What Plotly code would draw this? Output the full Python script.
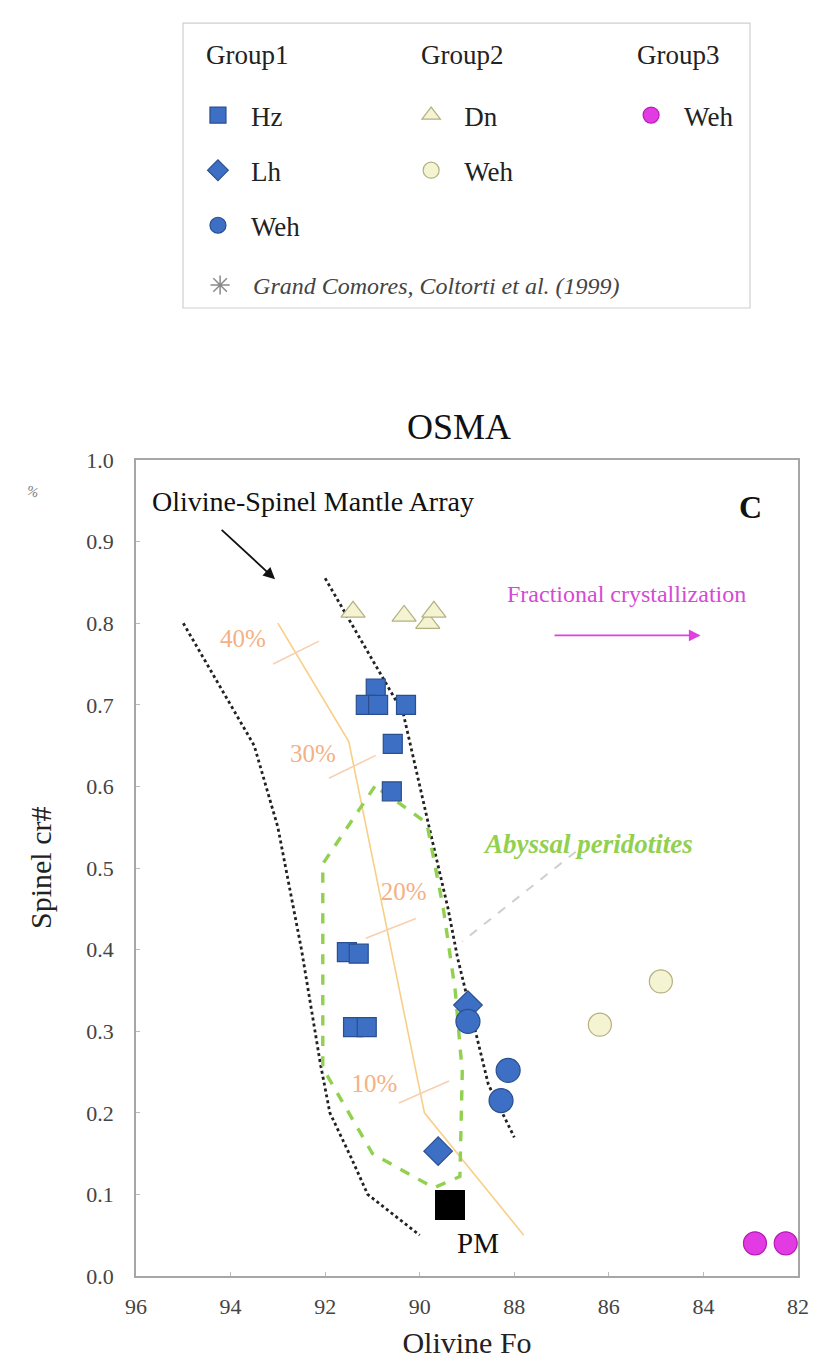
import plotly.graph_objects as go

# ---------------- data ----------------
hz_fo = [90.93, 91.14, 90.88, 90.29, 90.57, 90.59, 91.54, 91.29, 91.41, 91.12]
hz_cr = [0.720, 0.700, 0.700, 0.700, 0.652, 0.594, 0.397, 0.395, 0.305, 0.305]
lh_fo = [88.98, 89.61]
lh_cr = [0.332, 0.153]
weh1_fo = [88.98, 88.13, 88.28]
weh1_cr = [0.312, 0.252, 0.215]
dn_fo = [91.41, 90.33, 89.83, 89.70]
dn_cr = [0.814, 0.809, 0.800, 0.814]
weh2_fo = [86.19, 84.90]
weh2_cr = [0.308, 0.361]
weh3_fo = [82.91, 82.26]
weh3_cr = [0.040, 0.040]
pm_fo = [89.36]
pm_cr = [0.087]

osma_left_fo = [95.0, 93.5, 93.0, 92.5, 92.1, 91.9, 91.45, 91.1, 90.0]
osma_left_cr = [0.80, 0.65, 0.55, 0.40, 0.26, 0.20, 0.145, 0.10, 0.05]
osma_right_fo = [92.0, 90.8, 90.35, 89.8, 89.4, 89.2, 88.95, 88.55, 88.0]
osma_right_cr = [0.855, 0.735, 0.69, 0.55, 0.45, 0.39, 0.33, 0.235, 0.17]

melt_fo = [93.0, 91.5, 89.9, 87.8]
melt_cr = [0.80, 0.655, 0.20, 0.05]
melt_pct = ["40%", "30%", "20%", "10%"]
melt_tick_fo = [(93.1, 92.13), (91.92, 90.93), (91.14, 90.08), (90.44, 89.38)]
melt_tick_cr = [(0.750, 0.778), (0.610, 0.638), (0.414, 0.438), (0.212, 0.239)]
melt_lab_fo = [93.74, 92.26, 90.34, 90.96]
melt_lab_cr = [0.778, 0.638, 0.469, 0.233]

abyssal_fo = [90.95, 92.05, 92.05, 91.0, 89.7, 89.15, 89.1, 89.25, 89.5, 89.85, 90.45, 90.95]
abyssal_cr = [0.600, 0.505, 0.255, 0.150, 0.108, 0.122, 0.25, 0.35, 0.45, 0.555, 0.58, 0.600]
leader_fo = [86.7, 89.1]
leader_cr = [0.52, 0.41]

x_ticks = [96, 94, 92, 90, 88, 86, 84, 82]
y_ticks = [0.0, 0.1, 0.2, 0.3, 0.4, 0.5, 0.6, 0.7, 0.8, 0.9, 1.0]

# ---------------- styles ----------------
FONT = "Liberation Serif"
BLUE = "#3d6fc4"
BLUE_EDGE = "#2a4f8f"
PALE = "#f4f4d2"
PALE_EDGE = "#b5b080"
MAG = "#e33be3"
MAG_EDGE = "#b51cb5"
GREEN = "#92d050"
ORANGE_LINE = "#f7cf86"
SALMON = "#f4b183"

fig = go.Figure()

# OSMA boundaries
for fx, fy in [(osma_left_fo, osma_left_cr), (osma_right_fo, osma_right_cr)]:
    fig.add_trace(go.Scatter(x=fx, y=fy, mode="lines", showlegend=False, hoverinfo="skip",
                             line=dict(color="#222222", width=2.8, dash="dot")))
# melting trend
fig.add_trace(go.Scatter(x=melt_fo, y=melt_cr, mode="lines", showlegend=False, hoverinfo="skip",
                         line=dict(color=ORANGE_LINE, width=1.6)))
for tx, ty in zip(melt_tick_fo, melt_tick_cr):
    fig.add_trace(go.Scatter(x=list(tx), y=list(ty), mode="lines", showlegend=False, hoverinfo="skip",
                             line=dict(color="#f8cfb0", width=1.6)))
fig.add_trace(go.Scatter(x=melt_lab_fo, y=melt_lab_cr, mode="text", text=melt_pct, showlegend=False,
                         hoverinfo="skip", textfont=dict(family=FONT, size=25, color=SALMON)))
# abyssal field
fig.add_trace(go.Scatter(x=abyssal_fo, y=abyssal_cr, mode="lines", showlegend=False, hoverinfo="skip",
                         line=dict(color=GREEN, width=3.4, dash="dash")))
fig.add_trace(go.Scatter(x=leader_fo, y=leader_cr, mode="lines", showlegend=False, hoverinfo="skip",
                         line=dict(color="#cfcfcf", width=2, dash="dash")))

# data points
def pts(x, y, name, symbol, size, fill, edge, legend, group):
    fig.add_trace(go.Scatter(x=x, y=y, mode="markers", name=name, legend=legend, legendgroup=group,
                             marker=dict(symbol=symbol, size=size, color=fill,
                                         line=dict(color=edge, width=1.2))))

pts(dn_fo, dn_cr, "Dn", "triangle-up", 21, PALE, PALE_EDGE, "legend2", "g2a")
pts(weh2_fo, weh2_cr, "Weh", "circle", 23, PALE, PALE_EDGE, "legend2", "g2b")
pts(hz_fo, hz_cr, "Hz", "square", 19, BLUE, BLUE_EDGE, "legend", "g1a")
pts(lh_fo, lh_cr, "Lh", "diamond", 22, BLUE, BLUE_EDGE, "legend", "g1b")
pts(weh1_fo, weh1_cr, "Weh", "circle", 24, BLUE, BLUE_EDGE, "legend", "g1c")
pts(weh3_fo, weh3_cr, "Weh", "circle", 23, MAG, MAG_EDGE, "legend3", "g3a")
fig.add_trace(go.Scatter(x=pm_fo, y=pm_cr, mode="markers", showlegend=False,
                         marker=dict(symbol="square", size=30, color="black")))
# legend-only entry (not plotted in this panel)
fig.add_trace(go.Scatter(x=[None], y=[None], mode="markers", name="Grand Comores, Coltorti et al. (1999)",
                         legend="legend4", legendgroup="g4",
                         marker=dict(symbol="asterisk-open", size=16, color="#8a8a8a",
                                     line=dict(color="#8a8a8a", width=1.5))))

# ---------------- annotations ----------------
def note(x, y, text, size, color, ref="data", **kw):
    d = dict(x=x, y=y, text=text, showarrow=False, yanchor="middle",
             font=dict(family=FONT, size=size, color=color))
    if ref == "data":
        d.update(xref="x", yref="y")
    else:
        d.update(xref="paper", yref="paper")
    d.update(kw)
    return d

ann = []
ann.append(note(95.7, 0.949, "Olivine-Spinel Mantle Array", 28, "#111111", xanchor="left"))
ann.append(dict(x=93.06, y=0.854, ax=94.22, ay=0.916, xref="x", yref="y", axref="x", ayref="y", text="",
                showarrow=True, arrowhead=2, arrowsize=1.3, arrowwidth=1.8, arrowcolor="#111111"))
ann.append(note(83.0, 0.942, "<b>C</b>", 32, "#111111"))
ann.append(note(85.62, 0.836, "Fractional crystallization", 24, "#d54ad5"))
ann.append(dict(x=84.06, y=0.785, ax=87.18, ay=0.785, xref="x", yref="y", axref="x", ayref="y", text="",
                showarrow=True, arrowhead=2, arrowsize=1.3, arrowwidth=1.8, arrowcolor="#e040e0"))
ann.append(note(86.45, 0.53, "<b><i>Abyssal peridotites</i></b>", 27, GREEN))
ann.append(note(88.77, 0.04, "PM", 29, "#111111"))
ann.append(note(0.488, 1.041, "OSMA", 36, "#111111", ref="paper"))
for gx, gt in [(0.1027, "Group1"), (0.4275, "Group2"), (0.7538, "Group3")]:
    ann.append(note(gx, 1.4963, gt, 27, "#222222", ref="paper", xanchor="left"))
ann.append(note(-0.172, 0.962, "%", 14, "#777777", ref="paper", textangle=20))
ann.append(note(-0.173, 0.5, "Spinel cr#", 30, "#222222", ref="paper", textangle=-90))

legend_common = dict(font=dict(family=FONT, size=27, color="#222222"), bgcolor="rgba(0,0,0,0)",
                     traceorder="grouped", tracegroupgap=17, xref="container", yref="container",
                     xanchor="left", yanchor="top", itemsizing="trace", itemwidth=56)

fig.update_layout(
    width=825, height=1372,
    margin=dict(l=128, r=35, t=452, b=104, autoexpand=False),
    paper_bgcolor="white", plot_bgcolor="white",
    font=dict(family=FONT, color="#333333"),
    annotations=ann,
    shapes=[dict(type="rect", xref="paper", yref="paper", x0=0.071, x1=0.9275, y0=1.1863, y1=1.5355,
                 line=dict(color="#d0d0d0", width=1.2))],
    legend=dict(x=0.2145, y=0.9395, **legend_common),
    legend2=dict(x=0.4729, y=0.9395, **legend_common),
    legend3=dict(x=0.7395, y=0.9395, **legend_common),
    legend4=dict(x=0.2171, y=0.8142, **{**legend_common,
                                        "font": dict(family=FONT, size=24, color="#444444", style="italic")}),
    xaxis=dict(range=[96, 82], tickvals=x_ticks, ticktext=[str(v) for v in x_ticks],
               showgrid=False, zeroline=False, showline=True, linecolor="#a6a6a6", linewidth=1.5, mirror=True,
               ticks="inside", ticklen=4, tickcolor="#bbbbbb", ticklabelstandoff=10,
               tickfont=dict(family=FONT, size=22, color="#444444"),
               title=dict(text="Olivine Fo", standoff=14, font=dict(family=FONT, size=30, color="#222222"))),
    yaxis=dict(range=[0, 1.0], tickvals=y_ticks, tickformat=".1f",
               showgrid=False, zeroline=False, showline=True, linecolor="#a6a6a6", linewidth=1.5, mirror=True,
               ticks="inside", ticklen=4, tickcolor="#bbbbbb", ticklabelstandoff=16,
               tickfont=dict(family=FONT, size=22, color="#444444")),
)

fig.write_html("out.html")
